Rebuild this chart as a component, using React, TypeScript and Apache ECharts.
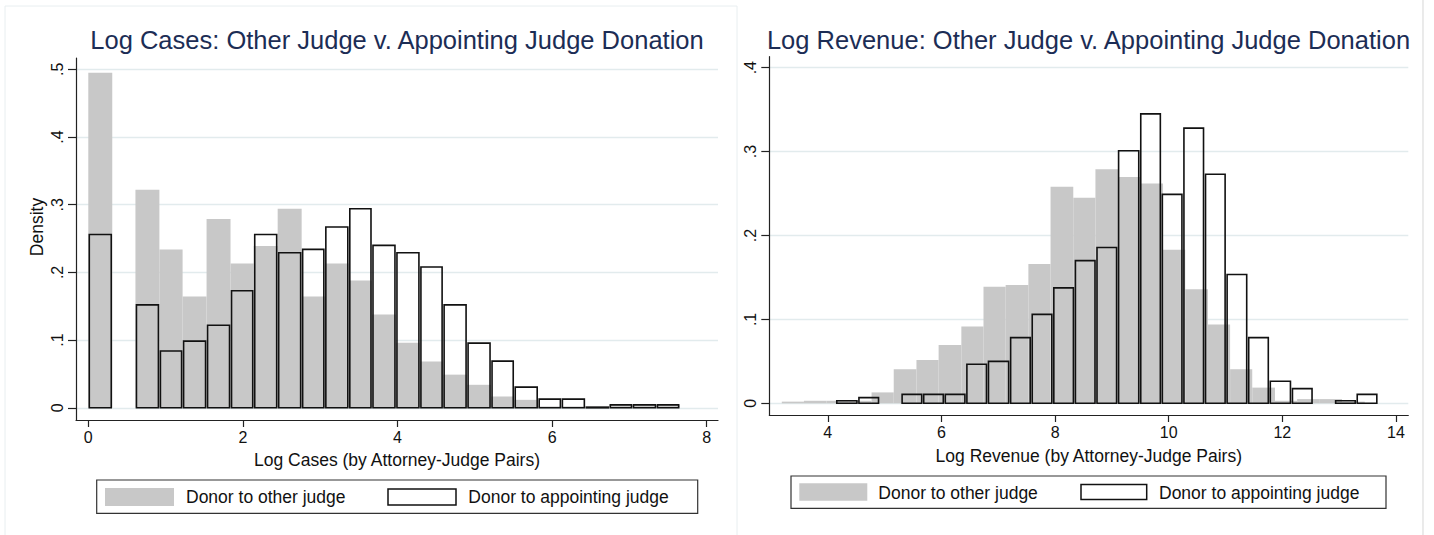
import { useEffect, useRef } from 'react';
import * as echarts from 'echarts';

const FONT = "'Liberation Sans', Arial, Helvetica, sans-serif";

// Left panel: Log Cases histogram (bin edges and densities)
const casesEdges = [0, 0.31, 0.61, 0.92, 1.22, 1.53, 1.84, 2.14, 2.45, 2.76, 3.06, 3.37, 3.67, 3.98, 4.29, 4.59, 4.9, 5.21, 5.51, 5.82, 6.12, 6.43, 6.74, 7.04, 7.35, 7.65];
const casesOther = [0.495, 0, 0.322, 0.234, 0.1645, 0.279, 0.213, 0.239, 0.294, 0.1645, 0.213, 0.188, 0.138, 0.096, 0.0685, 0.049, 0.034, 0.0167, 0.0118, 0.002, 0.002, 0.001, 0.004, 0.004, 0.004];
const casesAppointing = [0.256, 0, 0.152, 0.084, 0.0985, 0.122, 0.173, 0.256, 0.229, 0.234, 0.267, 0.294, 0.24, 0.229, 0.208, 0.152, 0.0956, 0.069, 0.0305, 0.0128, 0.0128, 0.001, 0.0044, 0.0044, 0.0044];

// Right panel: Log Revenue histograms (different bins per group)
const revOtherEdges = [3.19, 3.58, 3.98, 4.37, 4.77, 5.16, 5.56, 5.95, 6.35, 6.74, 7.13, 7.53, 7.92, 8.32, 8.71, 9.11, 9.5, 9.9, 10.29, 10.69, 11.08, 11.47, 11.87, 12.26, 12.66, 13.05, 13.45];
const revOther = [0.002, 0.003, 0.003, 0.003, 0.013, 0.0406, 0.0517, 0.0696, 0.0915, 0.139, 0.141, 0.166, 0.258, 0.245, 0.279, 0.2696, 0.262, 0.183, 0.136, 0.094, 0.0406, 0.0187, 0.003, 0.005, 0.005, 0.002];
const revAppEdges = [4.14, 4.53, 4.91, 5.29, 5.67, 6.05, 6.43, 6.81, 7.2, 7.58, 7.96, 8.34, 8.72, 9.1, 9.49, 9.87, 10.25, 10.63, 11.01, 11.39, 11.77, 12.16, 12.54, 12.92, 13.3, 13.68];
const revAppointing = [0.003, 0.0068, 0, 0.0107, 0.0107, 0.0107, 0.0465, 0.05, 0.0783, 0.106, 0.1376, 0.17, 0.1857, 0.301, 0.345, 0.249, 0.328, 0.273, 0.1535, 0.0783, 0.0262, 0.0175, 0, 0.003, 0.0107];

const casesXTicks = [0, 2, 4, 6, 8];
const casesYTicks = [0, 0.1, 0.2, 0.3, 0.4, 0.5];
const revXTicks = [4, 6, 8, 10, 12, 14];
const revYTicks = [0, 0.1, 0.2, 0.3, 0.4];

const titles = [
  'Log Cases: Other Judge v. Appointing Judge Donation',
  'Log Revenue: Other Judge v. Appointing Judge Donation',
];
const xTitles = ['Log Cases (by Attorney-Judge Pairs)', 'Log Revenue (by Attorney-Judge Pairs)'];
const yTitle = 'Density';
const legendLabels = ['Donor to other judge', 'Donor to appointing judge'];

const GREY = '#c8c8c8';
const TITLE_COLOR = '#1c2d55';
const GRID_COLOR = '#e2ebed';

function toBins(edges: number[], values: number[]) {
  const out: number[][] = [];
  for (let i = 0; i < values.length; i++) {
    if (values[i] > 0) out.push([edges[i], edges[i + 1], values[i]]);
  }
  return out;
}

const fillItem = (_p: any, api: any) => {
  const a = api.coord([api.value(0), api.value(2)]);
  const b = api.coord([api.value(1), 0]);
  return {
    type: 'rect',
    shape: { x: a[0], y: a[1], width: b[0] - a[0], height: b[1] - a[1] },
    style: { fill: GREY },
  };
};

const outlineItem = (_p: any, api: any) => {
  const a = api.coord([api.value(0), api.value(2)]);
  const b = api.coord([api.value(1), 0]);
  return {
    type: 'rect',
    shape: { x: a[0] + 1, y: a[1], width: b[0] - a[0] - 2, height: b[1] - a[1] },
    style: { fill: 'none', stroke: '#111', lineWidth: 1.6 },
  };
};

const yFmt = (v: number) => (v === 0 ? '0' : String(+v.toFixed(2)).replace(/^0/, ''));

function xAxisCfg(grid: number, min: number, max: number, ticks: number[], name: string, gap: number) {
  return {
    gridIndex: grid,
    type: 'value',
    min,
    max,
    axisLine: { show: true, onZero: false, lineStyle: { color: '#222', width: 1.2 } },
    axisTick: { show: true, length: 7, customValues: ticks, lineStyle: { color: '#222', width: 1.2 } },
    axisLabel: { customValues: ticks, fontSize: 16, color: '#111', margin: 9, fontFamily: FONT },
    splitLine: { show: false },
    name,
    nameLocation: 'middle',
    nameGap: gap,
    nameTextStyle: { fontSize: 17.5, color: '#111', fontFamily: FONT },
  };
}

function yAxisCfg(grid: number, min: number, max: number, ticks: number[]) {
  return {
    gridIndex: grid,
    type: 'value',
    min,
    max,
    axisLine: { show: true, onZero: false, lineStyle: { color: '#222', width: 1.2 } },
    axisTick: { show: true, length: 8, customValues: ticks, lineStyle: { color: '#222', width: 1.2 } },
    axisLabel: {
      customValues: ticks,
      fontSize: 16,
      color: '#111',
      margin: 11,
      rotate: 90,
      fontFamily: FONT,
      formatter: yFmt,
    },
    splitLine: { show: true, lineStyle: { color: GRID_COLOR, width: 1.3 } },
  };
}

function legendGraphic(box: number[], grey: number[], text1X: number, white: number[], text2X: number, ty: number) {
  return [
    {
      type: 'rect',
      shape: { x: box[0], y: box[1], width: box[2], height: box[3] },
      style: { fill: '#fff', stroke: '#333', lineWidth: 1.2 },
      z: 10,
    },
    {
      type: 'rect',
      shape: { x: grey[0], y: grey[1], width: grey[2], height: grey[3] },
      style: { fill: GREY },
      z: 11,
    },
    {
      type: 'text',
      x: text1X,
      y: ty,
      style: { text: legendLabels[0], fontSize: 17.5, fill: '#111', fontFamily: FONT, textVerticalAlign: 'middle' },
      z: 11,
    },
    {
      type: 'rect',
      shape: { x: white[0], y: white[1], width: white[2], height: white[3] },
      style: { fill: '#fff', stroke: '#111', lineWidth: 1.5 },
      z: 11,
    },
    {
      type: 'text',
      x: text2X,
      y: ty,
      style: { text: legendLabels[1], fontSize: 17.5, fill: '#111', fontFamily: FONT, textVerticalAlign: 'middle' },
      z: 11,
    },
  ];
}

export default function App() {
  const ref = useRef<HTMLDivElement>(null);

  useEffect(() => {
    if (!ref.current) return;
    const chart = echarts.init(ref.current, undefined, { renderer: 'svg' });
    const option: any = {
      animation: false,
      backgroundColor: '#fff',
      grid: [
        { left: 76, top: 58, width: 642, height: 362 },
        { left: 769.3, top: 56.7, width: 639, height: 358.3 },
      ],
      xAxis: [
        xAxisCfg(0, -0.159, 8.146, casesXTicks, xTitles[0], 31),
        xAxisCfg(1, 2.97, 14.2165, revXTicks, xTitles[1], 32),
      ],
      yAxis: [
        yAxisCfg(0, -0.018, 0.5167, casesYTicks),
        yAxisCfg(1, -0.01394, 0.4131, revYTicks),
      ],
      series: [
        { type: 'custom', xAxisIndex: 0, yAxisIndex: 0, renderItem: fillItem, data: toBins(casesEdges, casesOther), z: 2 },
        { type: 'custom', xAxisIndex: 0, yAxisIndex: 0, renderItem: outlineItem, data: toBins(casesEdges, casesAppointing), z: 3 },
        { type: 'custom', xAxisIndex: 1, yAxisIndex: 1, renderItem: fillItem, data: toBins(revOtherEdges, revOther), z: 2 },
        { type: 'custom', xAxisIndex: 1, yAxisIndex: 1, renderItem: outlineItem, data: toBins(revAppEdges, revAppointing), z: 3 },
      ],
      graphic: [
        {
          type: 'rect',
          shape: { x: 5, y: 6, width: 732, height: 560 },
          style: { fill: 'none', stroke: '#e8eef0', lineWidth: 1 },
          silent: true,
          z: -1,
        },
        {
          type: 'line',
          shape: { x1: 1423, y1: 0, x2: 1423, y2: 535 },
          style: { stroke: '#dddddd', lineWidth: 1.2 },
          silent: true,
        },
        {
          type: 'text',
          x: 397,
          y: 40,
          style: { text: titles[0], fontSize: 25.5, fill: TITLE_COLOR, fontFamily: FONT, textAlign: 'center', textVerticalAlign: 'middle' },
        },
        {
          type: 'text',
          x: 1088.5,
          y: 40,
          style: { text: titles[1], fontSize: 25.5, fill: TITLE_COLOR, fontFamily: FONT, textAlign: 'center', textVerticalAlign: 'middle' },
        },
        {
          type: 'text',
          x: 37,
          y: 227,
          rotation: Math.PI / 2,
          style: { text: yTitle, fontSize: 17.5, fill: '#111', fontFamily: FONT, textAlign: 'center', textVerticalAlign: 'middle' },
        },
        ...legendGraphic([96.7, 480, 601, 33.3], [105, 488, 69, 18], 186, [388, 489, 68, 16], 468.3, 497),
        ...legendGraphic([791, 476, 595, 32.3], [799.3, 483.3, 68, 17.4], 878.3, [1081, 484.5, 65.7, 15], 1159, 492.5),
      ],
    };
    chart.setOption(option);
    return () => chart.dispose();
  }, []);

  return (
    <div
      ref={ref}
      style={{ position: 'absolute', left: 0, top: 0, width: 1434, height: 535, background: '#fff' }}
    />
  );
}
